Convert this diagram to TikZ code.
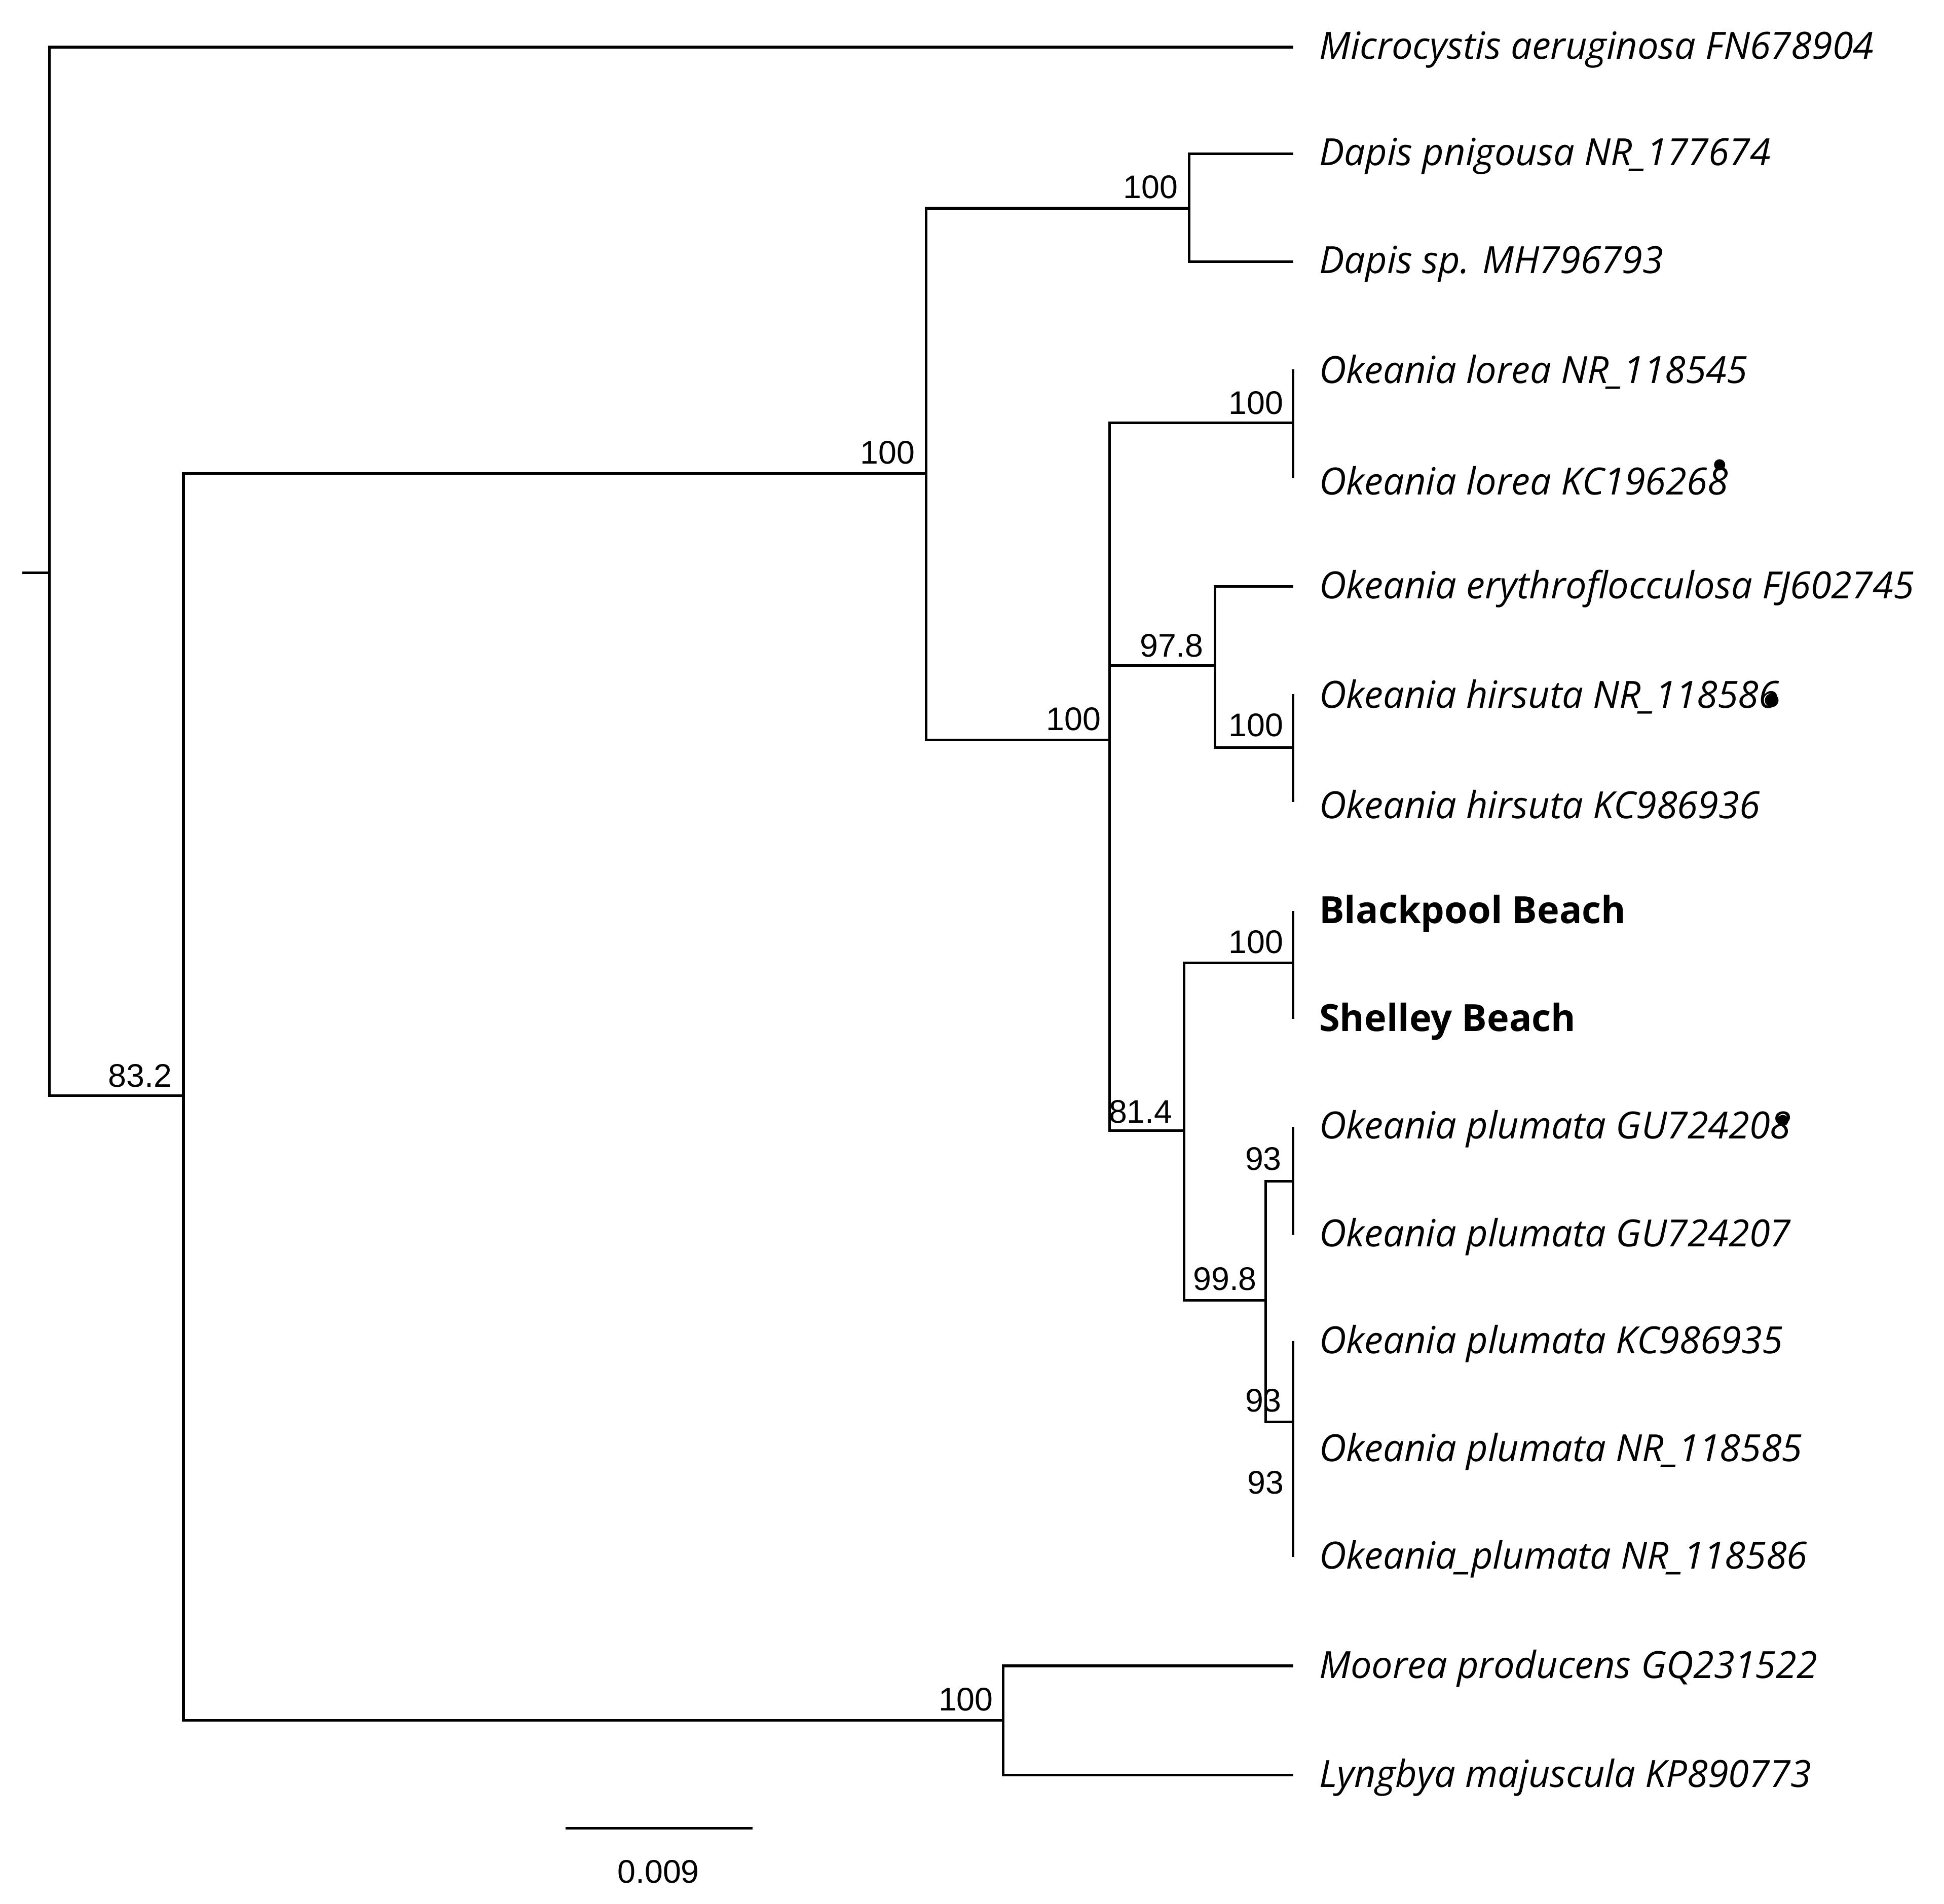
\documentclass[tikz,border=0pt]{standalone}
\usepackage{fontspec}
\setmainfont{Open Sans}
\newfontfamily\numfont{Liberation Sans}
\begin{document}
\begin{tikzpicture}[x=0.02cm,y=-0.02cm,line width=1.2pt,
  tip/.style={anchor=west,font=\fontsize{17.2}{20}\selectfont\itshape,inner sep=0pt},
  btip/.style={anchor=west,font=\fontsize{17.2}{20}\selectfont\bfseries,inner sep=0pt},
  boot/.style={font=\fontsize{15}{17}\selectfont\numfont,inner sep=0pt}]
\useasboundingbox (0,0) rectangle (1568,1536);
\foreach \n/\y in {t1/38,t2/124,t3/211,t4/298,t5/386,t6/473,t7/560,t8/647,t9/735,t10/822,t11/909,t12/996,t13/1082,t14/1169,t15/1256,t16/1344,t17/1432}
  \coordinate (\n) at (1043,\y);
\node[tip] at (1063,40) {Microcystis aeruginosa FN678904};
\node[tip] at (1063,126) {Dapis pnigousa NR\_177674};
\node[tip] at (1063,213) {Dapis sp. MH796793};
\node[tip] at (1063,300) {Okeania lorea NR\_118545};
\node[tip] at (1063,388) {Okeania lorea KC196268};
\node[tip] at (1063,475) {Okeania erythroflocculosa FJ602745};
\node[tip] at (1063,562) {Okeania hirsuta NR\_118586};
\node[tip] at (1063,649) {Okeania hirsuta KC986936};
\node[btip] at (1063,737) {Blackpool Beach};
\node[btip] at (1063,824) {Shelley Beach};
\node[tip] at (1063,911) {Okeania plumata GU724208};
\node[tip] at (1063,998) {Okeania plumata GU724207};
\node[tip] at (1063,1084) {Okeania plumata KC986935};
\node[tip] at (1063,1171) {Okeania plumata NR\_118585};
\node[tip] at (1063,1258) {Okeania\_plumata NR\_118586};
\node[tip] at (1063,1346) {Moorea producens GQ231522};
\node[tip] at (1063,1434) {Lyngbya majuscula KP890773};
% tree
\draw (18,462) -- (40,462);
\draw (1043,38) -- (40,38) -- (40,884) -- (148,884);
\draw (747,382) -- (148,382) -- (148,1388) -- (809,1388);
\draw (959,168) -- (747,168) -- (747,597) -- (895,597);
\draw (t2) -- (959,124) -- (959,211) -- (t3);
\draw (1043,341) -- (895,341) -- (895,912) -- (955,912);
\draw (t4) -- (t5);
\draw (895,537) -- (980,537);
\draw (t6) -- (980,473) -- (980,603) -- (1043,603);
\draw (t7) -- (t8);
\draw (1043,777) -- (955,777) -- (955,1049) -- (1021,1049);
\draw (t9) -- (t10);
\draw (1043,953) -- (1021,953) -- (1021,1147) -- (1043,1147);
\draw (t11) -- (t12);
\draw (t13) -- (t15);
\draw (t16) -- (809,1344) -- (809,1432) -- (t17);
\fill (1387,375) circle (4.5);
\fill (1429,565) circle (5.5);
\fill (1438,904) circle (4.5);
\node[boot] at (113,868) {83.2};
\node[boot] at (716,365) {100};
\node[boot] at (928,151) {100};
\node[boot] at (866,580) {100};
\node[boot] at (1013,325) {100};
\node[boot] at (945,521) {97.8};
\node[boot] at (1013,585) {100};
\node[boot] at (920,897) {81.4};
\node[boot] at (1013,760) {100};
\node[boot] at (988,1032) {99.8};
\node[boot] at (1019,935) {93};
\node[boot] at (1019,1130) {93};
\node[boot] at (1021,1196) {93};
\node[boot] at (779,1371) {100};
\draw (456,1475) coordinate (s1) -- (607,1475) coordinate (s2);
\node[boot] at (531,1510) {0.009};
\end{tikzpicture}
\end{document}
